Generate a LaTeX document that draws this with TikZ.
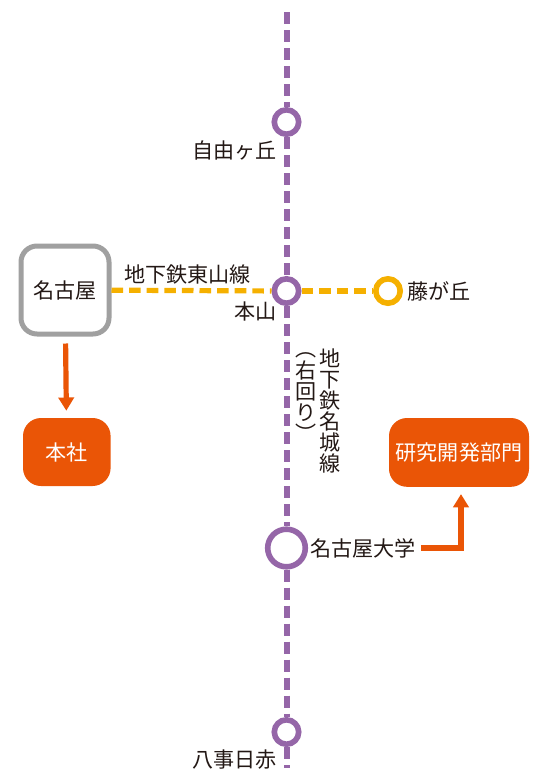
\documentclass[tikz,border=0pt]{standalone}
\usepackage{fontspec}
\usetikzlibrary{arrows.meta}
\setmainfont{Noto Sans CJK JP}
\definecolor{meijoline}{HTML}{9566A8}
\definecolor{higashiline}{HTML}{F5B000}
\definecolor{officeorange}{HTML}{EA5506}
\definecolor{boxgray}{HTML}{A0A0A0}
\definecolor{inktext}{HTML}{231815}
\begin{document}
\begin{tikzpicture}[
        font=\fontsize{15pt}{15pt}\selectfont,
        text=inktext,
        station/.style={circle, draw=#1, line width=1.4mm, fill=white, minimum size=6.1mm, inner sep=0pt},
        bigstation/.style={station=#1, minimum size=9.4mm},
        meijo/.style={meijoline, line width=1.5mm, dash pattern=on 3.1mm off 1.4mm},
        higashi/.style={higashiline, line width=1.3mm, dash pattern=on 2.9mm off 1.5mm},
        office/.style={fill=officeorange, rounded corners=4.5mm, text=white, inner sep=0pt},
        guide/.style={officeorange, line width=1.3mm, -{Triangle[length=3.3mm, width=3.8mm]}},
        stationname/.style={inner sep=0pt},
        tategaki/.style={inner sep=0pt, align=center}
    ]
        \useasboundingbox (0,0) rectangle (13.775,-19.5);

        \coordinate (meijoTop) at (7.1625,-0.3);
        \coordinate (meijoEnd) at (7.1625,-19.2);

        \node[station=meijoline] (jiyugaoka) at (7.1625,-3.05) {};
        \node[station=meijoline] (motoyama) at (7.1625,-7.275) {};
        \node[bigstation=meijoline] (meidai) at (7.1625,-13.7) {};
        \node[station=meijoline] (yagoto) at (7.1625,-18.3) {};
        \node[station=higashiline] (fujigaoka) at (9.7,-7.275) {};

        \node[draw=boxgray, line width=1.25mm, fill=white, rounded corners=4mm,
            minimum width=22mm, minimum height=22mm, inner sep=0pt]
            (nagoya) at (1.625,-7.25) {名古屋};
        \node[office, minimum width=21.9mm, minimum height=17mm]
            (honsha) at (1.67,-11.3) {本社};
        \node[office, minimum width=35mm, minimum height=17.2mm]
            (kaihatsu) at (11.475,-11.31) {研究開発部門};

        \node[stationname, anchor=east] (jiyugaokaName) at (6.92,-3.75) {自由ヶ丘};
        \node[stationname, anchor=east] (motoyamaName) at (6.92,-7.78) {本山};
        \node[stationname, anchor=west] (fujigaokaName) at (10.175,-7.275) {藤が丘};
        \node[stationname, anchor=west] (meidaiName) at (7.75,-13.7) {名古屋大学};
        \node[stationname, anchor=east] (yagotoName) at (6.92,-19.0) {八事日赤};
        \node[stationname] (higashiName) at (4.69,-6.85) {地下鉄東山線};
        \node[tategaki] (meijoName) at (8.25,-10.27) {地\\下\\鉄\\名\\城\\線};
        \node[tategaki] (directionName) at (7.65,-9.93) {︵\\右\\回\\り\\︶};

        \draw[meijo] (meijoTop) -- (jiyugaoka) -- (motoyama) -- (meidai) -- (yagoto) -- (meijoEnd);
        \draw[higashi] (nagoya) -- (motoyama);
        \draw[higashi] (motoyama) -- (fujigaoka);

        \draw[guide, shorten <=1.75mm, shorten >=1.75mm] (nagoya) -- (honsha);
        \draw[guide, shorten <=1.2mm, shorten >=1.75mm]
            (meidaiName.east) -| ([xshift=0.5mm]kaihatsu.south);
    \end{tikzpicture}
\end{document}
